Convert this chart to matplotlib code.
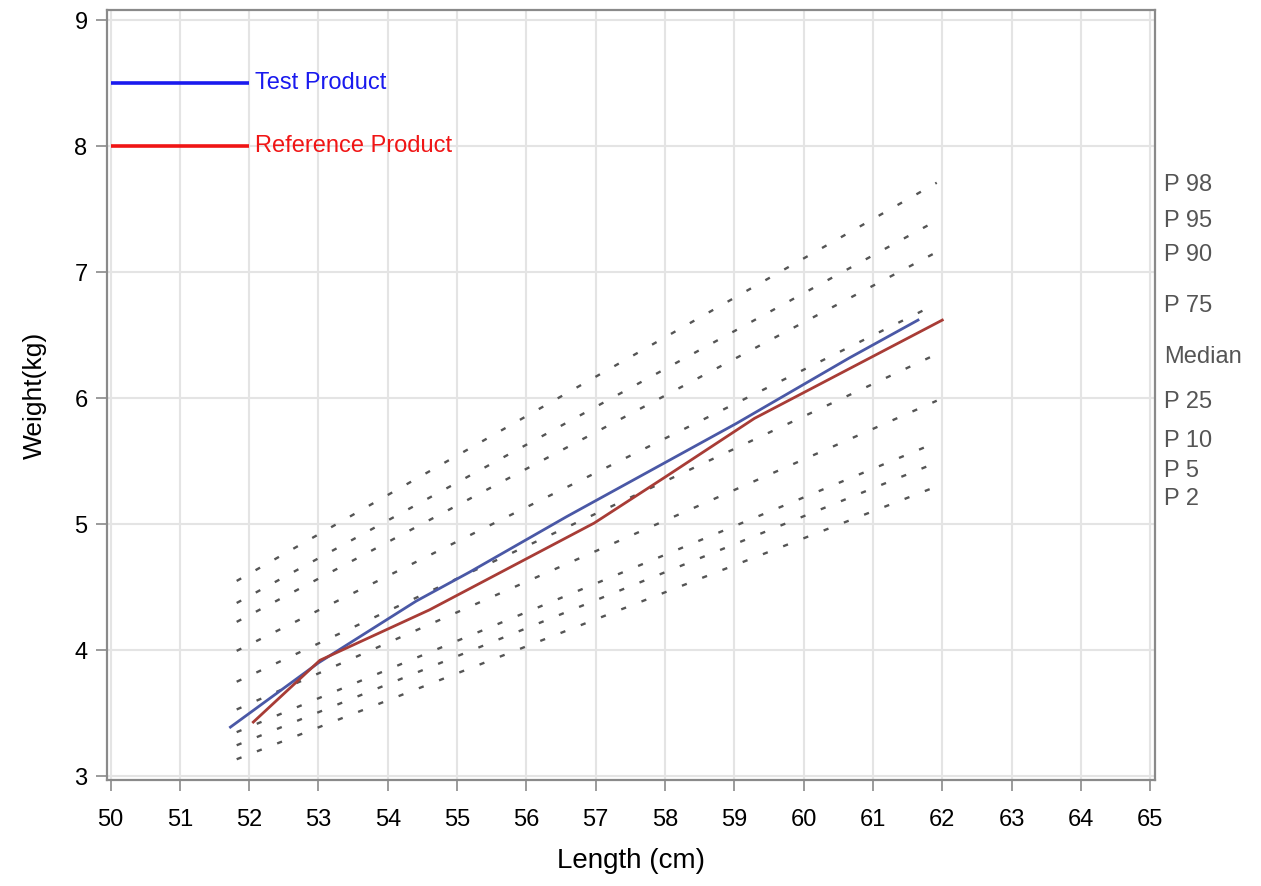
import matplotlib.pyplot as plt

plt.rcParams['font.family'] = ['Liberation Sans', 'DejaVu Sans']

# percentile reference curves (start / end of each dotted line)
pct_names = ['P 98', 'P 95', 'P 90', 'P 75', 'Median', 'P 25', 'P 10', 'P 5', 'P 2']
pct_x = [51.82, 61.92]
pct_start = [4.55, 4.375, 4.225, 3.995, 3.75, 3.53, 3.35, 3.246, 3.135]
pct_end = [7.71, 7.41, 7.16, 6.75, 6.35, 5.98, 5.65, 5.49, 5.30]
label_y = [7.69, 7.405, 7.14, 6.73, 6.33, 5.97, 5.66, 5.42, 5.20]

# product curves
test_x = [51.73, 53.0, 54.41, 55.18, 56.58, 59.03, 60.66, 61.65]
test_y = [3.39, 3.90, 4.39, 4.62, 5.06, 5.80, 6.32, 6.62]
ref_x = [52.06, 53.02, 54.6, 56.98, 57.99, 59.29, 62.0]
ref_y = [3.43, 3.92, 4.32, 5.01, 5.37, 5.84, 6.62]

legend_x = [50, 52]
legend_names = ['Test Product', 'Reference Product']
legend_y = [8.5, 8.0]
legend_cols = ['#1a1aee', '#f01515']

fig = plt.figure(figsize=(12.61, 8.86), dpi=100)
ax = fig.add_axes([0.0849, 0.1196, 0.8311, 0.869])

for i in range(len(pct_names)):
    ax.plot(pct_x, [pct_start[i], pct_end[i]], color='#555555', lw=1.7,
            linestyle=(0, (2.2, 7.0)))
    ax.text(65.2, label_y[i], pct_names[i], color='#555555', fontsize=17,
            va='center', ha='left', clip_on=False)

ax.plot(test_x, test_y, color='#4a58a6', lw=2.0)
ax.plot(ref_x, ref_y, color='#a83c36', lw=2.0)

for name, yv, c in zip(legend_names, legend_y, legend_cols):
    ax.plot(legend_x, [yv, yv], color=c, lw=2.6, solid_capstyle='butt')
    ax.text(52.08, yv, name, color=c, fontsize=17, va='center', ha='left')

ax.set_xlim(49.95, 65.07)
ax.set_ylim(2.97, 9.08)
ax.set_xticks(range(50, 66))
ax.set_yticks(range(3, 10))
ax.grid(True, color='#e4e4e4', lw=1.5)
ax.set_axisbelow(True)
for s in ax.spines.values():
    s.set_color('#8a8a8a')
    s.set_linewidth(1.6)
ax.tick_params(colors='#8a8a8a', labelcolor='black', labelsize=17, length=8, width=1.2)
ax.tick_params(axis='x', pad=13)
ax.tick_params(axis='y', pad=6)
ax.set_xlabel('Length (cm)', fontsize=20, labelpad=12)
ax.set_ylabel('Weight(kg)', fontsize=19, labelpad=20)

fig.savefig('out.png', dpi=100)
